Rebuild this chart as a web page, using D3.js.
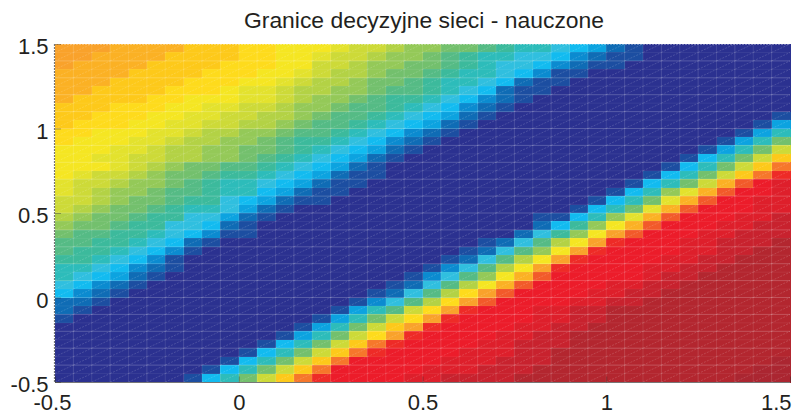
<!DOCTYPE html>
<html>
<head>
<meta charset="utf-8">
<script src="https://cdn.jsdelivr.net/npm/d3@7"></script>
<style>
html,body{margin:0;padding:0;background:#fff;}
svg{display:block;}
text{font-family:"Liberation Sans",Arial,sans-serif;fill:#231f20;}
</style>
</head>
<body>
<svg id="chart" width="807" height="417"></svg>
<script>
const titleText = "Granice decyzyjne sieci - nauczone";
const xTicks = [-0.5, 0, 0.5, 1, 1.5];
const yTicks = [-0.5, 0, 0.5, 1, 1.5];
const xTickLabels = ["-0.5", "0", "0.5", "1", "1.5"];
const yTickLabels = ["-0.5", "0", "0.5", "1", "1.5"];
const gridStep = 0.05;

// colour-level keys (low to high) and the colormap they map to
const levelKeys = "abcdefghijklmnopqrstuvwxyzAB".split("");
const levelColors = ["#2b3190","#1c4ea1","#0f6cb5","#0b8bd0","#0ca3e0","#12bbf0","#30bfdf","#2dbcba",
  "#3cba9c","#55bb85","#73c06d","#94c958","#b3d245","#cdda38","#e3e22d","#f5e622",
  "#fedb1c","#fdc91a","#fbb124","#f9a22b","#f6772b","#f25a2a","#ee2b27","#ec1c2a",
  "#de1f2b","#c8222e","#b3262f","#ab2631"];

// top row (y = 1.5) first; left column (x = -0.5) first; one key per cell
const cellRows = [
"tttssssrrrqqpp ponnmllkkjihh gfecbaaaaaaaa",
"ttssssrrrrqqpp onnmllkjihhgg fdcbbaaaaaaaa",
"tssssrrrrqqqpp nnmllkkjihggf dcbbaaaaaaaaa",
"ssssrrrrqqqppo nmmlkkjihhgfd bbaaaaaaaaaaa",
"sssrrrrqqqppon mmlkkjihhgfcb baaaaaaaaaaaa",
"ssrrrrqqqpoonm mllkjjihgfcbb aaaaaaaaaaaaa",
"srrrrqqpppoonm llkjiihgfdcba aaaaaaaaaaaaa",
"rrrqqqppoonnml lkjjihgfdcbaa aaaaaaaaaaaaa",
"rrqqqppoonnmml kjjihgfecbaaa aaaaaaaaaaaab",
"rqqqppoonnmmlk jjihgfecbaaaa aaaaaaaaaaabe",
"qqpppoonmmllkj jihgfdcbaaaaa aaaaaaaaaabeh",
"qpppoonmmllkji ihgfdcbaaaaaa aaaaaaaaabehk",
"pppoonmmllkkji hgfecbaaaaaaa aaaaaaaabehkn",
"ppoonnmmllkjih gfecbaaaaaaaa aaaaaaabfhknr",
"ppponmlkkjjihg fecbaaaaaaaaa aaaaaabfhknru",
"ponnmlkkjiihgf ecbbaaaaaaaaa aaaaabfhknruw",
"onnmllkjihhgfe cbbaaaaaaaaaa aaaabfhknsvxy",
"onmllkjjihhfec bbaaaaaaaaaaa aaabfhlosvxxy",
"nnmlkkjiigfecb baaaaaaaaaaaa aabfhkosvxxyy",
"nmlkkjihhgecba aaaaaaaaaaaaa abfhkosvxxxyy",
"mlkkjiiggecbaa aaaaaaaaaaaab bfhlosvxxxyyz",
"lkkjiiggfcbaaa aaaaaaaaaaaac filpsvxxxyyzz",
"kjjiihgfdbbaaa aaaaaaaaaaacg ilptvxxxyyzzz",
"jjiihgfcbaaaaa aaaaaaaaabcgj mptwxxxyyzzzA",
"jiihgfdbaaaaaa aaaaaaaabcgjl ptwxxxxyyzzAA",
"iihgfdbaaaaaaa aaaaaaabcgjmp twxxxxyyzzAAA",
"hhgfdcbaaaaaaa aaaaaabdgjmpt wxxxxyyzzAAAA",
"hgfecbaaaaaaaa aaaaabdgjlpsv xxxxxyzzAAAAA",
"gfdcbaaaaaaaaa aaaabcgjmpsvx xxxyyzzAAAAAA",
"fdcbaaaaaaaaaa aaabcgjmqtvxx xxyyzzAAAAAAA",
"ccbaaaaaaaaaaa aabdgjmqtvxxx xyyzzAAAAAAAA",
"cbaaaaaaaaaaaa abehjnqtwxxxy yzzAAAAAAAAAA",
"baaaaaaaaaaaaa behknqtwxxxxy yzzAAAAAAAAAA",
"aaaaaaaaaaaaab ehknrtwxxxxyy zzAAAAAAAAAAA",
"aaaaaaaaaaaabe hknqtwxxxxyyz zAAAAAAAAAAAA",
"aaaaaaaaaaabfh knruwxxxxyyzz zAAAAAAAAAAAA",
"aaaaaaaaaabfhk nruwxxxxyyyzz AAAAAAAAAAAAA",
"aaaaaaaaabfhkn ruxxxxxyyyzzz AAAAAAAAAAAAB",
"aaaaaaaabfhknr uxxxxxyyyzzzA AAAAAAAAAAABB",
"aaaaaaabfhknru wxxxxyyzzzzAA AAAAAAAAAABBB"
];

const W = 807, H = 417;
const margin = {left: 55, right: 17, top: 44, bottom: 35};
const svg = d3.select("#chart");
const x = d3.scaleLinear().domain([-0.5, 1.5]).range([margin.left, W - margin.right]);
const y = d3.scaleLinear().domain([-0.5, 1.5]).range([H - margin.bottom, margin.top]);
const color = d3.scaleOrdinal().domain(levelKeys).range(levelColors);

const cells = [];
cellRows.forEach((row, r) => {
  row.replace(/ /g, "").split("").forEach((k, c) => {
    cells.push({c, r, k});
  });
});
const xLeft = c => x(-0.5 + c * gridStep);
const yTop = r => y(1.5 - r * gridStep);

// flat-coloured cells
svg.append("g").selectAll("rect").data(cells).join("rect")
  .attr("x", d => xLeft(d.c))
  .attr("y", d => yTop(d.r))
  .attr("width", d => xLeft(d.c + 1) - xLeft(d.c) + 0.5)
  .attr("height", d => yTop(d.r + 1) - yTop(d.r) + 0.5)
  .attr("fill", d => color(d.k))
  .attr("shape-rendering", "crispEdges");

// clip to the plot box
svg.append("clipPath").attr("id", "plot").append("rect")
  .attr("x", x(-0.5)).attr("y", y(1.5))
  .attr("width", x(1.5) - x(-0.5)).attr("height", y(-0.5) - y(1.5));

const mesh = svg.append("g").attr("clip-path", "url(#plot)").attr("fill", "none").attr("stroke", "#fff");
const nCols = d3.range(1, 40), nRows = d3.range(1, 40);

// mesh edges
mesh.selectAll("line.v").data(nCols).join("line").attr("class", "v")
  .attr("x1", d => xLeft(d)).attr("x2", d => xLeft(d))
  .attr("y1", y(1.5)).attr("y2", y(-0.5))
  .attr("stroke-width", 0.9)
  .attr("stroke-opacity", d => d % 2 ? 0.17 : 0.12);
mesh.selectAll("line.h").data(nRows).join("line").attr("class", "h")
  .attr("y1", d => yTop(d)).attr("y2", d => yTop(d))
  .attr("x1", x(-0.5)).attr("x2", x(1.5))
  .attr("stroke-width", 0.9)
  .attr("stroke-opacity", d => d % 2 ? 0.07 : 0.24);

// dashed cell diagonals
mesh.selectAll("line.d").data(cells).join("line").attr("class", "d")
  .attr("x1", d => xLeft(d.c)).attr("y1", d => yTop(d.r + 1))
  .attr("x2", d => xLeft(d.c + 1)).attr("y2", d => yTop(d.r))
  .attr("stroke-width", 0.5)
  .attr("stroke-opacity", 0.3)
  .attr("stroke-dasharray", "2,1.2");

// box edges
svg.append("line").attr("x1", x(-0.5)).attr("x2", x(1.5)).attr("y1", y(1.5)).attr("y2", y(1.5))
  .attr("stroke", "#fff").attr("stroke-width", 1).attr("stroke-dasharray", "2,1").attr("stroke-opacity", 0.7);
svg.append("line").attr("x1", x(-0.5) - 0.5).attr("x2", x(-0.5) - 0.5).attr("y1", y(1.5)).attr("y2", y(-0.5))
  .attr("stroke", "#777").attr("stroke-width", 1.2).attr("stroke-dasharray", "2,1");
svg.append("line").attr("x1", x(-0.5)).attr("x2", x(1.5)).attr("y1", y(-0.5) + 0.5).attr("y2", y(-0.5) + 0.5)
  .attr("stroke", "#777").attr("stroke-width", 1);

// axes (labels and short inward ticks)
const xAxis = d3.axisBottom(x).tickValues(xTicks).tickFormat((d, i) => xTickLabels[i]).tickSize(-6).tickPadding(12);
const yAxis = d3.axisLeft(y).tickValues(yTicks).tickFormat((d, i) => yTickLabels[i]).tickSize(-6).tickPadding(6.5);
const gx = svg.append("g").attr("transform", `translate(0,${y(-0.5) + 0.5})`).call(xAxis);
const gy = svg.append("g").attr("transform", `translate(${x(-0.5)},0)`).call(yAxis);
[gx, gy].forEach(g => {
  g.select(".domain").remove();
  g.selectAll("text").attr("font-size", 22);
  g.selectAll("line").attr("stroke", "#231f20").attr("stroke-opacity", 0.45).attr("stroke-width", 0.8);
});
gy.selectAll("text").attr("y", 2.5);
// the two outer x labels sit slightly inside their ticks, as in the reference
gx.selectAll("text").filter(d => d === -0.5).attr("x", -3);
gx.selectAll("text").filter(d => d === 1.5).attr("text-anchor", "end").attr("x", 1);

svg.append("text").attr("x", 424).attr("y", 28)
  .attr("text-anchor", "middle").attr("font-size", 22.9).text(titleText);
</script>
</body>
</html>
